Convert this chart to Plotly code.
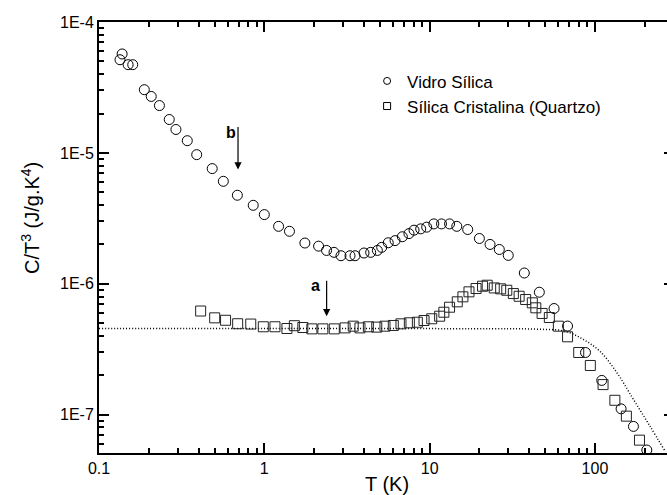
import plotly.graph_objects as go

# Vidro Silica (circles)
T_vidro = [0.134, 0.138, 0.150, 0.160, 0.188, 0.207, 0.232, 0.266, 0.292, 0.342,
           0.390, 0.484, 0.565, 0.687, 0.857, 1.00, 1.22, 1.42, 1.76, 2.13,
           2.38, 2.64, 2.91, 3.30, 3.54, 4.01, 4.40, 4.83, 5.13, 5.62,
           6.18, 6.84, 7.50, 8.05, 8.83, 9.60, 10.6, 11.8, 13.2, 14.6,
           17.0, 20.0, 23.2, 26.4, 29.9, 37.4, 46.1, 56.6, 68.3, 87.7,
           110, 144, 171, 206]
C_vidro = [5.15e-5, 5.70e-5, 4.72e-5, 4.72e-5, 3.04e-5, 2.70e-5, 2.30e-5, 1.80e-5, 1.51e-5, 1.24e-5,
           9.7e-6, 7.59e-6, 6.07e-6, 4.75e-6, 3.98e-6, 3.38e-6, 2.75e-6, 2.52e-6, 2.05e-6, 1.94e-6,
           1.80e-6, 1.74e-6, 1.64e-6, 1.64e-6, 1.64e-6, 1.72e-6, 1.74e-6, 1.80e-6, 1.90e-6, 2.06e-6,
           2.14e-6, 2.29e-6, 2.42e-6, 2.57e-6, 2.63e-6, 2.71e-6, 2.87e-6, 2.87e-6, 2.87e-6, 2.75e-6,
           2.60e-6, 2.22e-6, 2.00e-6, 1.83e-6, 1.65e-6, 1.21e-6, 8.63e-7, 6.48e-7, 4.76e-7, 2.99e-7,
           1.83e-7, 1.11e-7, 8.15e-8, 5.38e-8]

# Silica Cristalina (Quartzo) (squares)
T_quartzo = [0.412, 0.501, 0.583, 0.690, 0.828, 0.986, 1.16, 1.37, 1.52, 1.71,
             1.94, 2.26, 2.65, 3.08, 3.45, 3.79, 4.26, 4.79, 5.37, 6.03,
             6.71, 7.54, 8.43, 9.25, 10.3, 11.5, 12.2, 13.2, 14.7, 15.9,
             17.3, 19.1, 20.9, 22.3, 24.6, 26.9, 29.3, 32.1, 34.8, 38.1,
             41.8, 43.9, 47.9, 53.0, 60.1, 68.3, 79.8, 93.8, 112, 132,
             155, 186]
C_quartzo = [6.20e-7, 5.50e-7, 5.27e-7, 4.96e-7, 4.93e-7, 4.70e-7, 4.70e-7, 4.56e-7, 4.79e-7, 4.64e-7,
             4.53e-7, 4.53e-7, 4.53e-7, 4.61e-7, 4.75e-7, 4.61e-7, 4.70e-7, 4.67e-7, 4.75e-7, 4.81e-7,
             4.95e-7, 5.04e-7, 5.09e-7, 5.25e-7, 5.41e-7, 5.66e-7, 6.07e-7, 6.63e-7, 7.29e-7, 7.96e-7,
             8.69e-7, 9.21e-7, 9.59e-7, 9.76e-7, 9.31e-7, 9.16e-7, 8.93e-7, 8.43e-7, 8.04e-7, 7.59e-7,
             7.16e-7, 6.56e-7, 5.94e-7, 5.53e-7, 4.75e-7, 3.94e-7, 2.99e-7, 2.38e-7, 1.70e-7, 1.29e-7,
             9.76e-8, 6.40e-8]

# dotted curve (Debye)
T_debye = [0.1, 1, 10, 30, 46.5, 65.9, 85.1, 107, 136, 171, 215, 265]
C_debye = [4.55e-7, 4.55e-7, 4.55e-7, 4.54e-7, 4.50e-7, 4.35e-7, 3.76e-7, 3.06e-7, 2.09e-7, 1.31e-7, 8.2e-8, 5.3e-8]

y_ticks = [1e-7, 1e-6, 1e-5, 1e-4]
y_labels = ["1E-7", "1E-6", "1E-5", "1E-4"]

FONT = "Liberation Sans, Arial, sans-serif"
XR = [-1, 2.436]
YR = [-7.292, -4]

fig = go.Figure()
fig.add_trace(go.Scatter(x=T_debye, y=C_debye, mode="lines",
                         line=dict(color="black", width=1.5, dash="1px,2px", shape="spline"),
                         showlegend=False, hoverinfo="skip"))
fig.add_trace(go.Scatter(x=T_vidro, y=C_vidro, mode="markers", showlegend=False,
                         marker=dict(symbol="circle-open", size=10, color="black", line=dict(width=1, color="black"))))
fig.add_trace(go.Scatter(x=T_quartzo, y=C_quartzo, mode="markers", showlegend=False,
                         marker=dict(symbol="square-open", size=10, color="#222", line=dict(width=1, color="#222"))))
fig.add_trace(go.Scatter(x=[None], y=[None], mode="markers", name="Vidro Sílica",
                         marker=dict(symbol="circle-open", size=7, color="black", line=dict(width=1))))
fig.add_trace(go.Scatter(x=[None], y=[None], mode="markers", name="Sílica Cristalina (Quartzo)",
                         marker=dict(symbol="square-open", size=7, color="black", line=dict(width=1))))
# carrier for the right-hand tick marks
fig.add_trace(go.Scatter(x=[None], y=[None], yaxis="y2", showlegend=False, hoverinfo="skip"))

fig.update_layout(
    width=667, height=495,
    margin=dict(l=99, r=0, t=22, b=42),
    paper_bgcolor="white", plot_bgcolor="white",
    font=dict(family=FONT, size=16, color="black"),
    showlegend=True,
    legend=dict(x=0.472, y=0.904, xanchor="left", yanchor="top", bgcolor="rgba(0,0,0,0)",
                font=dict(size=17), tracegroupgap=0),
    xaxis=dict(type="log", range=XR, dtick=1,
               ticks="inside", ticklen=10, tickwidth=1.5, tickcolor="black",
               showline=True, linewidth=2, linecolor="black", mirror="ticks",
               showgrid=False, zeroline=False,
               minor=dict(ticks="inside", ticklen=5, tickwidth=1.5, tickcolor="black", dtick="D1", showgrid=False),
               tickfont=dict(size=16)),
    yaxis=dict(type="log", range=YR, tickvals=y_ticks, ticktext=y_labels,
               ticks="inside", ticklen=10, tickwidth=1.5, tickcolor="black",
               showline=True, linewidth=2, linecolor="black", mirror=False,
               showgrid=False, zeroline=False,
               minor=dict(ticks="inside", ticklen=5, tickwidth=1.5, tickcolor="black", dtick="D1", showgrid=False),
               tickfont=dict(size=16)),
    yaxis2=dict(type="log", range=YR, overlaying="y", side="right", anchor="x", tickvals=y_ticks,
                ticks="inside", ticklen=3, tickwidth=1.5, tickcolor="black",
                showticklabels=False, showline=False, showgrid=False, zeroline=False),
)

annotations = [
    dict(text="T (K)", xref="paper", yref="paper", x=(387 - 99) / 568, y=-(484 - 453) / 431,
         showarrow=False, font=dict(size=20), xanchor="center", yanchor="middle"),
    dict(text="C/T<sup>3</sup> (J/g.K<sup>4</sup>)", xref="paper", yref="paper",
         x=-(99 - 30) / 568, y=1 - (218 - 22) / 431,
         showarrow=False, font=dict(size=20), textangle=-90, xanchor="center", yanchor="middle"),
    dict(text="", x=-0.159, y=-5.127, xref="x", yref="y", ax=0, ay=-44, showarrow=True,
         arrowhead=2, arrowsize=1.2, arrowwidth=1.2, arrowcolor="black", standoff=0),
    dict(text="<b>b</b>", x=(231 - 99) / 568, y=1 - (132 - 22) / 431, xref="paper", yref="paper",
         showarrow=False, font=dict(size=16), xanchor="center", yanchor="middle"),
    dict(text="", x=0.377, y=-6.247, xref="x", yref="y", ax=0, ay=-37, showarrow=True,
         arrowhead=2, arrowsize=1.2, arrowwidth=1.2, arrowcolor="black", standoff=0),
    dict(text="<b>a</b>", x=(315 - 99) / 568, y=1 - (285 - 22) / 431, xref="paper", yref="paper",
         showarrow=False, font=dict(size=16), xanchor="center", yanchor="middle"),
]
fig.update_layout(annotations=annotations)

fig.write_html("out.html", config={"displayModeBar": False},
               post_script="document.body.style.margin='0';document.body.style.overflow='hidden';")
